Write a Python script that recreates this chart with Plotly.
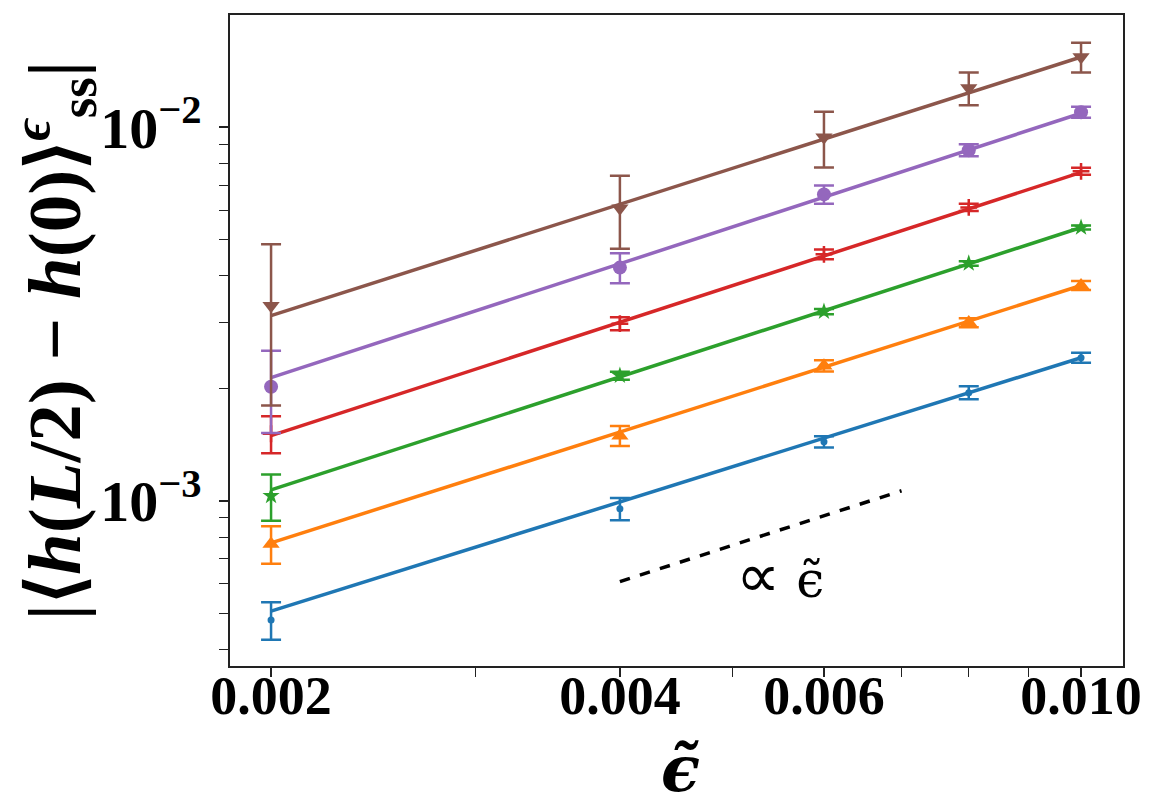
import numpy as np
import plotly.graph_objects as go

# ---- data ----
eps = [0.002, 0.004, 0.006, 0.008, 0.010]

blue_y = [4.80e-4, 9.52e-4, 1.439e-3, 1.948e-3, 2.416e-3]
blue_err = [0.055e-3, 0.065e-3, 0.050e-3, 0.078e-3, 0.074e-3]
orange_y = [7.67e-4, 1.494e-3, 2.30e-3, 3.00e-3, 3.77e-3]
orange_err = [0.088e-3, 0.092e-3, 0.080e-3, 0.083e-3, 0.104e-3]
green_y = [1.031e-3, 2.163e-3, 3.21e-3, 4.32e-3, 5.39e-3]
green_err = [0.146e-3, 0.054e-3, 0.050e-3, 0.060e-3, 0.070e-3]
red_y = [1.512e-3, 2.98e-3, 4.57e-3, 6.10e-3, 7.62e-3]
red_err = [0.172e-3, 0.120e-3, 0.140e-3, 0.135e-3, 0.165e-3]
purple_y = [2.02e-3, 4.21e-3, 6.61e-3, 8.68e-3, 1.097e-2]
purple_err = [0.50e-3, 0.39e-3, 0.37e-3, 0.325e-3, 0.37e-3]
brown_y = [3.33e-3, 6.07e-3, 9.40e-3, 1.273e-2, 1.541e-2]
brown_err = [1.53e-3, 1.34e-3, 1.60e-3, 1.28e-3, 1.41e-3]

# fitted power-law lines, values at eps = 0.002 and 0.010
fit_x = [0.002, 0.010]
blue_fit = [5.07e-4, 2.416e-3]
orange_fit = [7.72e-4, 3.77e-3]
green_fit = [1.07e-3, 5.39e-3]
red_fit = [1.494e-3, 7.57e-3]
purple_fit = [2.137e-3, 1.09e-2]
brown_fit = [3.13e-3, 1.541e-2]

# reference slope line (∝ eps)
ref_x = [0.004, 0.007]
ref_y = [6.08e-4, 1.064e-3]

x_tickvals = [0.002, 0.004, 0.006, 0.010]
x_ticktext = ["0.002", "0.004", "0.006", "0.010"]
x_minor = [0.003, 0.005, 0.007, 0.008, 0.009]
y_tickvals = [1e-3, 1e-2]
y_ticktext = ["10<sup>−3</sup>", "10<sup>−2</sup>"]
y_minor = [4e-4, 5e-4, 6e-4, 7e-4, 8e-4, 9e-4, 2e-3, 3e-3, 4e-3, 5e-3,
           6e-3, 7e-3, 8e-3, 9e-3, 2e-2]

series = [
    (blue_y, blue_err, blue_fit, "#1f77b4", "circle", 7, None),
    (orange_y, orange_err, orange_fit, "#ff7f0e", "triangle-up", 15, None),
    (green_y, green_err, green_fit, "#2ca02c", "star", 13, None),
    (red_y, red_err, red_fit, "#d62728", "cross-thin", 12, 2.5),
    (purple_y, purple_err, purple_fit, "#9467bd", "circle", 14, None),
    (brown_y, brown_err, brown_fit, "#8c564b", "triangle-down", 15, None),
]

fig = go.Figure()
for ys, errs, fit, col, sym, size, lw in series:
    mk = dict(symbol=sym, size=size, color=col)
    if lw:
        mk["line"] = dict(width=lw, color=col)
    fig.add_trace(go.Scatter(
        x=eps, y=ys, mode="markers", marker=mk,
        error_y=dict(type="data", array=errs, visible=True, color=col,
                     thickness=2.5, width=10),
        showlegend=False))
    fig.add_trace(go.Scatter(
        x=fit_x, y=fit, mode="lines", line=dict(color=col, width=3.5),
        showlegend=False))

fig.add_trace(go.Scatter(x=ref_x, y=ref_y, mode="lines",
                         line=dict(color="black", width=3.5, dash="dash"),
                         showlegend=False))

axis_common = dict(showline=True, linecolor="#222", linewidth=1.5, mirror=True,
                   ticks="outside", ticklen=9, tickwidth=1.5, tickcolor="#222",
                   showgrid=False, zeroline=False, automargin=False)

fig.update_xaxes(type="log", range=[-2.7344, -1.9638],
                 tickvals=x_tickvals, ticktext=["<b>%s</b>" % t for t in x_ticktext],
                 tickfont=dict(family="Liberation Serif", size=54, color="black"),
                 ticklabelstandoff=-28,
                 minor=dict(tickvals=x_minor, ticks="outside", ticklen=9,
                            tickwidth=1, tickcolor="#222"),
                 **axis_common)
fig.update_yaxes(type="log", range=[-3.442, -1.6997],
                 tickvals=y_tickvals, ticktext=["<b>%s</b>" % t for t in y_ticktext],
                 tickfont=dict(family="Liberation Serif", size=58, color="black"),
                 ticklabelstandoff=6,
                 minor=dict(tickvals=y_minor, ticks="outside", ticklen=9,
                            tickwidth=1, tickcolor="#222"),
                 **axis_common)

fig.add_annotation(
    text="<b>|⟨<i>h</i>(<i>L</i>/2) − <i>h</i>(0)⟩<sup><i>ϵ</i></sup><sub>ss</sub>|</b>",
    xref="paper", yref="paper", x=-0.197, y=0.5, xanchor="center", yanchor="middle",
    textangle=-90, showarrow=False,
    font=dict(family="Liberation Serif", size=75, color="black"))
fig.add_annotation(
    text="<b><i>ϵ̃</i></b>",
    xref="paper", yref="paper", x=0.504, y=-0.158, xanchor="center", yanchor="middle",
    showarrow=False,
    font=dict(family="DejaVu Serif", size=64, color="black"))
fig.add_annotation(
    text="<span style='font-family:DejaVu Sans;font-size:62px'>∝</span> ϵ̃",
    x=np.log10(0.0055), y=np.log10(6.3e-4),
    xanchor="center", yanchor="middle", showarrow=False,
    font=dict(family="DejaVu Serif", size=50, color="black"))

fig.update_layout(
    width=1160, height=812,
    margin=dict(l=222, r=45, t=7, b=154),
    paper_bgcolor="white", plot_bgcolor="white",
)

fig.write_html("out.html")
